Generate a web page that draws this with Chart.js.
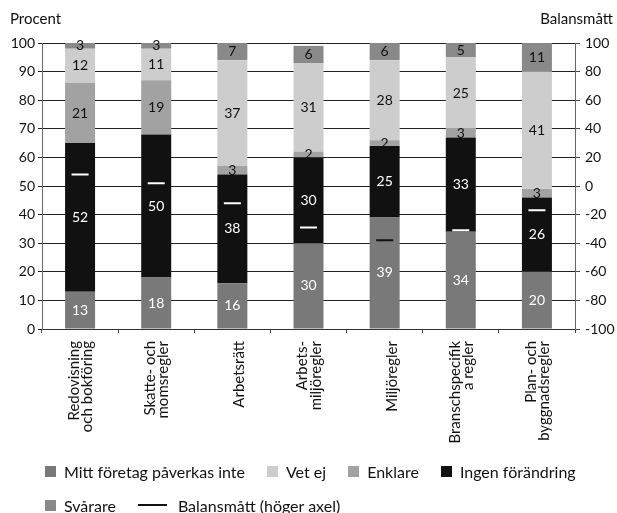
<!DOCTYPE html>
<html lang="sv">
<head>
<meta charset="utf-8">
<title>Regelförändringar</title>
<script src="https://cdn.jsdelivr.net/npm/chart.js@4.4.0/dist/chart.umd.min.js"></script>
<style>
  html, body { margin: 0; padding: 0; background: #fff; }
  #wrap { position: relative; width: 617px; height: 513px; }
  #legend {
    position: absolute; left: 45px; top: 461px; width: 565px;
    display: flex; flex-wrap: wrap; column-gap: 22px; row-gap: 14px;
    font: 16px Lato, sans-serif; color: #111;
  }
  .item { display: flex; align-items: center; height: 20px; white-space: nowrap; }
  .box { width: 11px; height: 11px; margin-right: 8px; }
  .line { width: 29px; height: 2px; margin-right: 11px; background: #111; }
</style>
</head>
<body>
<div id="wrap">
  <canvas id="chart" width="617" height="513"></canvas>
  <div id="legend"></div>
</div>
<script>
// Categories (single-line labels get an empty first line, like the wrapped Excel labels)
const categories = [
  ['Redovisning', 'och bokföring'],
  ['Skatte- och', 'momsregler'],
  ['', 'Arbetsrätt'],
  ['Arbets-', 'miljöregler'],
  ['', 'Miljöregler'],
  ['Branschspecifik', 'a regler'],
  ['Plan- och', 'byggnadsregler']
];

// Series, in percent (stacked bottom to top)
const mittForetag = [13, 18, 16, 30, 39, 34, 20];
const ingenForandring = [52, 50, 38, 30, 25, 33, 26];
const enklare = [21, 19, 3, 2, 2, 3, 3];
const vetEj = [12, 11, 37, 31, 28, 25, 41];
const svarare = [3, 3, 7, 6, 6, 5, 11];

// Balance measure (right axis)
const balansmatt = [8, 2, -12, -29, -38, -31, -17];

// Axis ranges
const leftAxis = { min: 0, max: 100, step: 10 };
const rightAxis = { min: -100, max: 100, step: 20 };

const FONT = 'Lato, sans-serif';
const markerColors = ['#fff', '#fff', '#fff', '#fff', '#111', '#fff', '#fff'];

// Order of the legend entries
const legendOrder = ['Mitt företag påverkas inte', 'Vet ej', 'Enklare', 'Ingen förändring', 'Svårare', 'Balansmått (höger axel)'];

function barSet(label, data, color, textColor) {
  return {
    type: 'bar',
    label: label,
    data: data,
    backgroundColor: color,
    borderWidth: 0,
    barPercentage: 0.394,
    categoryPercentage: 1,
    yAxisID: 'y',
    order: 1,
    textColor: textColor
  };
}

// Value labels in the middle of each segment
const segmentLabels = {
  id: 'segmentLabels',
  afterDatasetsDraw(chart) {
    const ctx = chart.ctx;
    const area = chart.chartArea;
    ctx.save();
    ctx.font = '14px ' + FONT;
    ctx.textAlign = 'center';
    ctx.textBaseline = 'middle';
    chart.data.datasets.forEach((ds, i) => {
      if (ds.type !== 'bar') return;
      const meta = chart.getDatasetMeta(i);
      meta.data.forEach((el, j) => {
        const top = Math.max(el.y, area.top);
        const y = (top + el.base) / 2;
        ctx.fillStyle = ds.textColor;
        ctx.fillText(ds.data[j], el.x, y);
      });
    });
    ctx.restore();
  }
};

// Axis titles above the plot
const axisTitles = {
  id: 'axisTitles',
  afterDraw(chart) {
    const ctx = chart.ctx;
    ctx.save();
    ctx.font = '15px ' + FONT;
    ctx.fillStyle = '#111';
    ctx.textBaseline = 'middle';
    ctx.textAlign = 'left';
    ctx.fillText('Procent', 10, 19);
    ctx.textAlign = 'right';
    ctx.fillText('Balansmått', 613, 19);
    ctx.restore();
  }
};

const tickFont = { family: FONT, size: 14 };

const chart = new Chart(document.getElementById('chart'), {
  data: {
    labels: categories,
    datasets: [
      barSet('Mitt företag påverkas inte', mittForetag, '#797979', '#fff'),
      barSet('Ingen förändring', ingenForandring, '#111111', '#fff'),
      barSet('Enklare', enklare, '#a2a2a2', '#111'),
      barSet('Vet ej', vetEj, '#cdcdcd', '#111'),
      barSet('Svårare', svarare, '#898989', '#111'),
      {
        type: 'line',
        label: 'Balansmått (höger axel)',
        data: balansmatt,
        yAxisID: 'y1',
        showLine: false,
        pointStyle: 'line',
        pointRadius: 8.5,
        pointHoverRadius: 8.5,
        pointBorderWidth: 2,
        pointBorderColor: markerColors,
        borderColor: '#111',
        order: 0
      }
    ]
  },
  options: {
    responsive: false,
    animation: false,
    layout: { padding: { top: 43, left: 0, right: 0, bottom: 0 } },
    plugins: {
      legend: { display: false },
      tooltip: { enabled: false }
    },
    scales: {
      x: {
        stacked: true,
        grid: { offset: true, drawOnChartArea: false, tickLength: 4, color: '#444' },
        border: { color: '#333' },
        ticks: {
          autoSkip: false,
          minRotation: 90,
          maxRotation: 90,
          padding: 8,
          labelOffset: -6,
          color: '#111',
          font: { family: FONT, size: 15, lineHeight: 0.88 }
        },
        afterFit: s => { s.height = 184; }
      },
      y: {
        stacked: true,
        position: 'left',
        min: leftAxis.min,
        max: leftAxis.max,
        ticks: { stepSize: leftAxis.step, padding: 3, color: '#111', font: tickFont },
        grid: { color: '#222', tickLength: 4 },
        border: { color: '#666' },
        afterFit: s => { s.width = 42; }
      },
      y1: {
        position: 'right',
        min: rightAxis.min,
        max: rightAxis.max,
        ticks: { stepSize: rightAxis.step, padding: 5, color: '#111', font: tickFont },
        grid: { drawOnChartArea: false, color: '#444', tickLength: 5 },
        border: { color: '#666' },
        afterFit: s => { s.width = 42; }
      }
    }
  },
  plugins: [segmentLabels, axisTitles]
});

// HTML legend built from the chart's datasets
const legendEl = document.getElementById('legend');
legendOrder.forEach(name => {
  const ds = chart.data.datasets.find(d => d.label === name);
  const item = document.createElement('div');
  item.className = 'item';
  const mark = document.createElement('span');
  if (ds.type === 'line') {
    mark.className = 'line';
    mark.style.background = ds.borderColor;
  } else {
    mark.className = 'box';
    mark.style.background = ds.backgroundColor;
  }
  const text = document.createElement('span');
  text.textContent = ds.label;
  item.appendChild(mark);
  item.appendChild(text);
  legendEl.appendChild(item);
});
</script>
</body>
</html>
